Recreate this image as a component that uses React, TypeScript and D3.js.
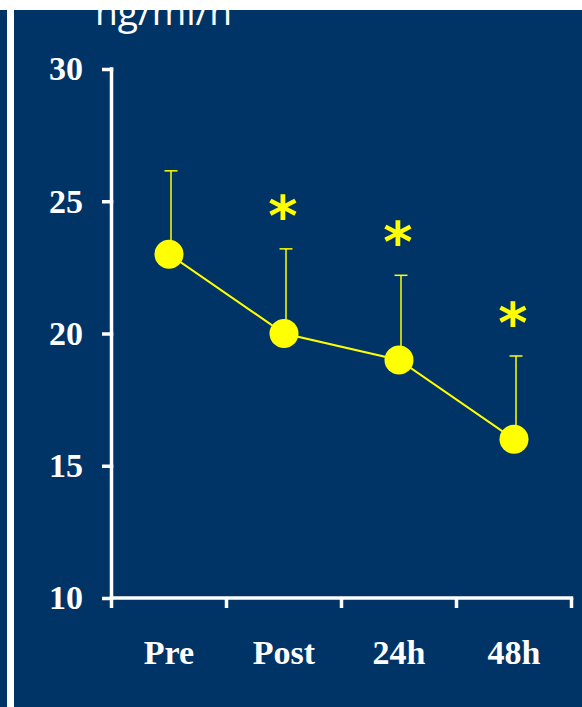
import { useRef, useEffect } from "react";
import * as d3 from "d3";

const categories = ["Pre", "Post", "24h", "48h"];
const means = [23, 20, 19, 16];
const sds = [3.15, 3.2, 3.2, 3.15];
const significant = [false, true, true, true];
const yTicks = [10, 15, 20, 25, 30];
const unitLabel = "ng/ml/h";

const WIDTH = 582;
const HEIGHT = 707;
const NAVY = "#003366";
const YELLOW = "#ffff00";
const AXIS_W = 3.5;

export default function App() {
  const ref = useRef<SVGSVGElement | null>(null);

  useEffect(() => {
    if (!ref.current) return;
    const svg = d3.select(ref.current);
    svg.selectAll("*").remove();

    // background: white page with two navy panels
    svg.append("rect").attr("width", WIDTH).attr("height", HEIGHT).attr("fill", "#fff");
    svg.append("rect").attr("x", 0).attr("y", 10).attr("width", 7).attr("height", HEIGHT - 10).attr("fill", NAVY);
    svg.append("rect").attr("x", 14).attr("y", 10).attr("width", WIDTH - 14).attr("height", HEIGHT - 10).attr("fill", NAVY);

    // unit label, partly hidden behind the top white band (as in the original slide)
    svg
      .append("text")
      .attr("x", 95)
      .attr("y", 25)
      .attr("fill", "#fff")
      .attr("font-family", "'Open Sans', sans-serif")
      .attr("font-size", 36)
      .attr("textLength", 137)
      .attr("lengthAdjust", "spacingAndGlyphs")
      .text(unitLabel);
    svg.append("rect").attr("width", WIDTH).attr("height", 10).attr("fill", "#fff");

    const x = d3.scaleBand<string>().domain(categories).range([111.5, 571.5]);
    const y = d3.scaleLinear().domain([10, 30]).range([598, 69]);
    const cx = (i: number) => (x(categories[i]) ?? 0) + x.bandwidth() / 2;

    // y axis
    svg
      .append("g")
      .attr("transform", `translate(${x.range()[0]},0)`)
      .call(d3.axisLeft(y).tickValues(yTicks).tickSize(9.5).tickSizeOuter(0).tickPadding(19).tickFormat(d3.format("d")))
      .call((g) =>
        g.select(".domain").attr("stroke", "#fff").attr("stroke-width", AXIS_W).attr("d", `M0,${y(30) - AXIS_W / 2}V${y(10)}`)
      )
      .call((g) => g.selectAll(".tick line").attr("stroke", "#fff").attr("stroke-width", AXIS_W).attr("x1", AXIS_W / 2))
      .call((g) =>
        g
          .selectAll(".tick text")
          .attr("fill", "#fff")
          .attr("font-family", "'Liberation Serif', 'Times New Roman', serif")
          .attr("font-weight", "bold")
          .attr("font-size", 34)
      );

    // x axis line and ticks at band boundaries
    const boundaries = [...categories.map((c) => x(c) ?? 0), x.range()[1]];
    const xg = svg.append("g").attr("transform", `translate(0,${y(10)})`);
    xg.append("line")
      .attr("x1", x.range()[0] - AXIS_W / 2)
      .attr("x2", x.range()[1] + AXIS_W / 2)
      .attr("stroke", "#fff")
      .attr("stroke-width", AXIS_W);
    xg.selectAll("line.tk")
      .data(boundaries)
      .join("line")
      .attr("class", "tk")
      .attr("x1", (d) => d)
      .attr("x2", (d) => d)
      .attr("y1", 0)
      .attr("y2", 10)
      .attr("stroke", "#fff")
      .attr("stroke-width", AXIS_W);

    svg
      .append("g")
      .attr("transform", `translate(0,${y(10)})`)
      .call(d3.axisBottom(x).tickSize(0).tickPadding(42))
      .call((g) => g.select(".domain").remove())
      .call((g) =>
        g
          .selectAll(".tick text")
          .attr("fill", "#fff")
          .attr("font-family", "'Liberation Serif', 'Times New Roman', serif")
          .attr("font-weight", "bold")
          .attr("font-size", 34)
      );

    const idx = d3.range(categories.length);

    // error bars (upper only)
    const eb = svg.append("g").attr("stroke", YELLOW).attr("stroke-width", 1.5);
    eb.selectAll("line.v")
      .data(idx)
      .join("line")
      .attr("class", "v")
      .attr("x1", (i) => cx(i) + 2)
      .attr("x2", (i) => cx(i) + 2)
      .attr("y1", (i) => y(means[i]))
      .attr("y2", (i) => y(means[i] + sds[i]));
    eb.selectAll("line.cap")
      .data(idx)
      .join("line")
      .attr("class", "cap")
      .attr("x1", (i) => cx(i) + 2 - 6.5)
      .attr("x2", (i) => cx(i) + 2 + 6.5)
      .attr("y1", (i) => y(means[i] + sds[i]))
      .attr("y2", (i) => y(means[i] + sds[i]));

    // mean line
    const line = d3
      .line<number>()
      .x((i) => cx(i))
      .y((i) => y(means[i]));
    svg.append("path").datum(idx).attr("d", line).attr("fill", "none").attr("stroke", YELLOW).attr("stroke-width", 2);

    svg
      .append("g")
      .selectAll("circle")
      .data(idx)
      .join("circle")
      .attr("cx", (i) => cx(i))
      .attr("cy", (i) => y(means[i]))
      .attr("r", 14.5)
      .attr("fill", YELLOW);

    // significance stars
    svg
      .append("g")
      .selectAll("text")
      .data(idx.filter((i) => significant[i]))
      .join("text")
      .attr("x", (i) => cx(i) - 1)
      .attr("y", (i) => y(means[i] + sds[i]) - 14)
      .attr("text-anchor", "middle")
      .attr("fill", YELLOW)
      .attr("font-family", "'DejaVu Sans', sans-serif")
      .attr("font-weight", "bold")
      .attr("font-size", 56)
      .text("*");
  }, []);

  return (
    <svg
      ref={ref}
      width={WIDTH}
      height={HEIGHT}
      viewBox={`0 0 ${WIDTH} ${HEIGHT}`}
      style={{ position: "absolute", left: 0, top: 0, display: "block" }}
    />
  );
}
